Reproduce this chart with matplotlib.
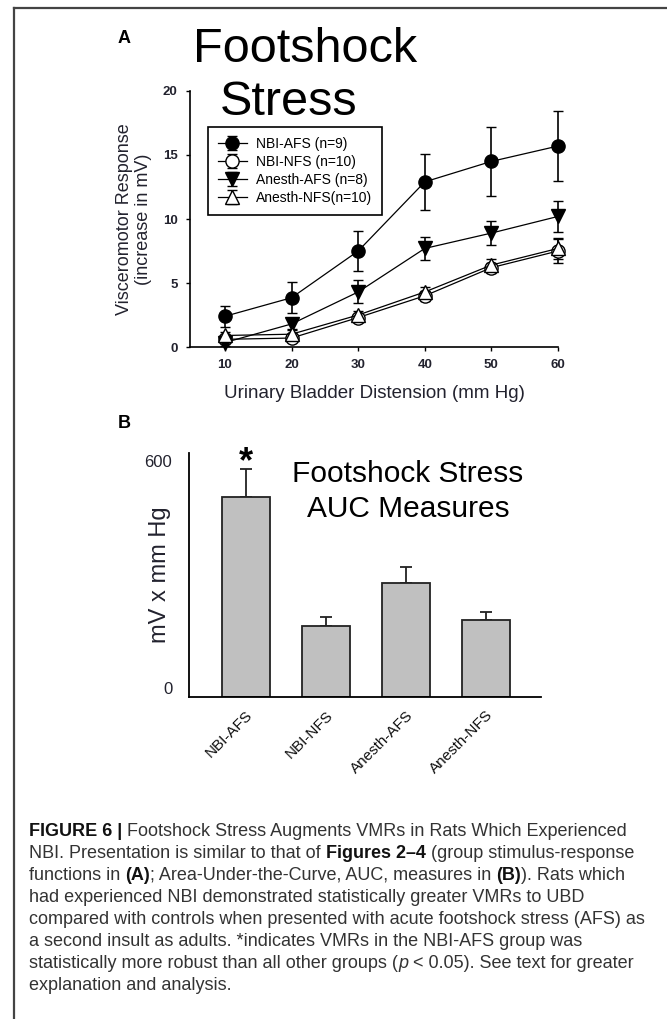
import matplotlib
matplotlib.use("Agg")
import matplotlib.pyplot as plt
import matplotlib.transforms as mtransforms
from matplotlib import font_manager
from matplotlib.lines import Line2D
import numpy as np

# ---- data ----
distension = [10, 20, 30, 40, 50, 60]

nbi_afs = [2.4, 3.85, 7.5, 12.9, 14.5, 15.7]
nbi_afs_err = [0.8, 1.2, 1.6, 2.2, 2.7, 2.7]
nbi_nfs = [0.6, 0.7, 2.3, 4.0, 6.2, 7.5]
nbi_nfs_err = [0.3, 0.3, 0.3, 0.4, 0.4, 0.9]
anesth_afs = [0.35, 1.8, 4.3, 7.7, 8.9, 10.2]
anesth_afs_err = [0.3, 0.4, 0.9, 0.9, 0.95, 1.2]
anesth_nfs = [0.9, 1.0, 2.5, 4.3, 6.4, 7.7]
anesth_nfs_err = [0.3, 0.3, 0.3, 0.4, 0.5, 0.8]

groups = ["NBI-AFS", "NBI-NFS", "Anesth-AFS", "Anesth-NFS"]
auc = [507, 180, 290, 195]
auc_err = [72, 23, 40, 21]

W, H = 667, 1019
txt = "#22222e"
plt.rcParams["font.family"] = ["Liberation Sans", "DejaVu Sans"]

names = {f.name for f in font_manager.fontManager.ttflist}
narrow = "Liberation Sans Narrow" if "Liberation Sans Narrow" in names else "Liberation Sans"

fig = plt.figure(figsize=(W / 100, H / 100), dpi=100)


def fx(px):
    return px / W


def fy(py):
    return 1 - py / H


# frame lines of the figure page
fig.add_artist(Line2D([fx(14), 1], [fy(8), fy(8)], color="#444444", lw=1.6))
fig.add_artist(Line2D([fx(14), fx(14)], [fy(8), 0], color="#444444", lw=1.6))

# ---- panel A ----
ax1 = fig.add_axes([fx(190), fy(347), (558 - 190) / W, (347 - 91) / H])
series = [
    (nbi_afs, nbi_afs_err, "o", "black", "NBI-AFS (n=9)"),
    (nbi_nfs, nbi_nfs_err, "o", "white", "NBI-NFS (n=10)"),
    (anesth_afs, anesth_afs_err, "v", "black", "Anesth-AFS (n=8)"),
    (anesth_nfs, anesth_nfs_err, "^", "white", "Anesth-NFS(n=10)"),
]
for vals, errs, mk, fc, lab in series:
    ax1.errorbar(distension, vals, yerr=errs, color="black", lw=0.9, elinewidth=1.2,
                 capsize=3.5, capthick=1.2, marker=mk, markersize=9.5,
                 markerfacecolor=fc, markeredgecolor="black", markeredgewidth=1.0,
                 label=lab, clip_on=False)
ax1.set_xlim(4.75, 60)
ax1.set_ylim(0, 20)
ax1.set_xticks(distension)
ax1.set_yticks([0, 5, 10, 15, 20])
for s in ["top", "right"]:
    ax1.spines[s].set_visible(False)
for s in ["left", "bottom"]:
    ax1.spines[s].set_linewidth(1.2)
ax1.tick_params(direction="out", length=3, width=1, labelsize=9.5, labelcolor=txt, pad=6)
for lbl in ax1.get_xticklabels() + ax1.get_yticklabels():
    lbl.set_fontweight("bold")
ax1.set_xlabel("Urinary Bladder Distension (mm Hg)", fontsize=13.5, color=txt, labelpad=10)
ax1.set_ylabel("Visceromotor Response\n(increase in mV)", fontsize=13, color=txt,
               labelpad=8, linespacing=1.15)

leg = ax1.legend(loc="upper left", bbox_to_anchor=(fx(208), fy(127)),
                 bbox_transform=fig.transFigure, borderaxespad=0,
                 fancybox=False, edgecolor="black", framealpha=1,
                 prop={"family": narrow, "size": 10}, labelspacing=0.3,
                 handlelength=2.1, handletextpad=0.65, borderpad=0.7)
leg.get_frame().set_linewidth(1.2)

fig.text(fx(118), fy(30), "A", fontsize=13, fontweight="bold", va="top", ha="left")
fig.text(fx(193), fy(62), "Footshock", fontsize=35, va="baseline", ha="left")
fig.text(fx(220), fy(115), "Stress", fontsize=35, va="baseline", ha="left")

# ---- panel B ----
ax2 = fig.add_axes([fx(189), fy(697), (541 - 189) / W, (697 - 453) / H])
xpos = np.arange(len(groups))
ax2.bar(xpos, auc, width=0.6, color="#c0c0c0", edgecolor="#222222", linewidth=1.3, zorder=2)
ax2.errorbar(xpos, auc, yerr=[np.zeros(len(auc)), auc_err], fmt="none", ecolor="#222222",
             elinewidth=1.3, capsize=4, capthick=1.3, zorder=1)
ax2.set_xlim(-0.71, 3.69)
ax2.set_ylim(0, 620)
ax2.set_yticks([0, 600])
ax2.set_xticks(xpos)
ax2.set_xticklabels(groups, rotation=45, ha="right", rotation_mode="anchor", fontsize=11)
shift = mtransforms.ScaledTranslation(13 / 100, 0, fig.dpi_scale_trans)
for lbl in ax2.get_xticklabels():
    lbl.set_transform(lbl.get_transform() + shift)
ax2.tick_params(axis="y", length=0, labelsize=12, labelcolor=txt, pad=12)
ax2.tick_params(axis="x", length=0, pad=8, labelsize=11, labelcolor="#111111")
ax2.get_yticklabels()[0].set_va("bottom")
for s in ["top", "right"]:
    ax2.spines[s].set_visible(False)
for s in ["left", "bottom"]:
    ax2.spines[s].set_linewidth(1.3)
ax2.set_ylabel("mV x mm Hg", fontsize=17, color=txt)
ax2.yaxis.label.set_va("center")
ax2.yaxis.set_label_coords((160 - 189) / 352, 0.5)
ax2.annotate("*", xy=(0, auc[0] + auc_err[0]), xytext=(0, -8), textcoords="offset points",
             ha="center", va="bottom", fontsize=26, fontweight="bold", annotation_clip=False)
fig.text(fx(408), fy(482), "Footshock Stress", fontsize=21.5, ha="center", va="baseline")
fig.text(fx(408), fy(517), "AUC Measures", fontsize=21.5, ha="center", va="baseline")
fig.text(fx(118), fy(415), "B", fontsize=13, fontweight="bold", va="top", ha="left")

# ---- caption with mixed styles ----
cap_lines = [
    [("FIGURE 6 | ", "bold"), ("Footshock Stress Augments VMRs in Rats Which Experienced", "")],
    [("NBI. Presentation is similar to that of ", ""), ("Figures 2\u20134", "bold"),
     (" (group stimulus-response", "")],
    [("functions in ", ""), ("(A)", "bold"), ("; Area-Under-the-Curve, AUC, measures in ", ""),
     ("(B)", "bold"), ("). Rats which", "")],
    [("had experienced NBI demonstrated statistically greater VMRs to UBD", "")],
    [("compared with controls when presented with acute footshock stress (AFS) as", "")],
    [("a second insult as adults. *indicates VMRs in the NBI-AFS group was", "")],
    [("statistically more robust than all other groups (", ""), ("p", "italic"),
     (" < 0.05). See text for greater", "")],
    [("explanation and analysis.", "")],
]
cap_y = [836 + 22 * i for i in range(len(cap_lines))]

renderer = fig.canvas.get_renderer()
probe = fig.text(0, 0, cap_lines[4][0][0], family=narrow, fontsize=13)
wpx = probe.get_window_extent(renderer).width
probe.remove()
cap_size = 13 * 616 / wpx

for runs, yb in zip(cap_lines, cap_y):
    x = 29
    for s, style in runs:
        kw = {"family": narrow, "fontsize": cap_size, "va": "baseline", "ha": "left"}
        if style == "bold":
            kw.update(fontweight="bold", color="#111111")
        elif style == "italic":
            kw.update(fontstyle="italic", color="#333333")
        else:
            kw.update(color="#333333")
        t = fig.text(fx(x), fy(yb), s, **kw)
        x += t.get_window_extent(renderer).width

fig.savefig("out.png", dpi=100)
